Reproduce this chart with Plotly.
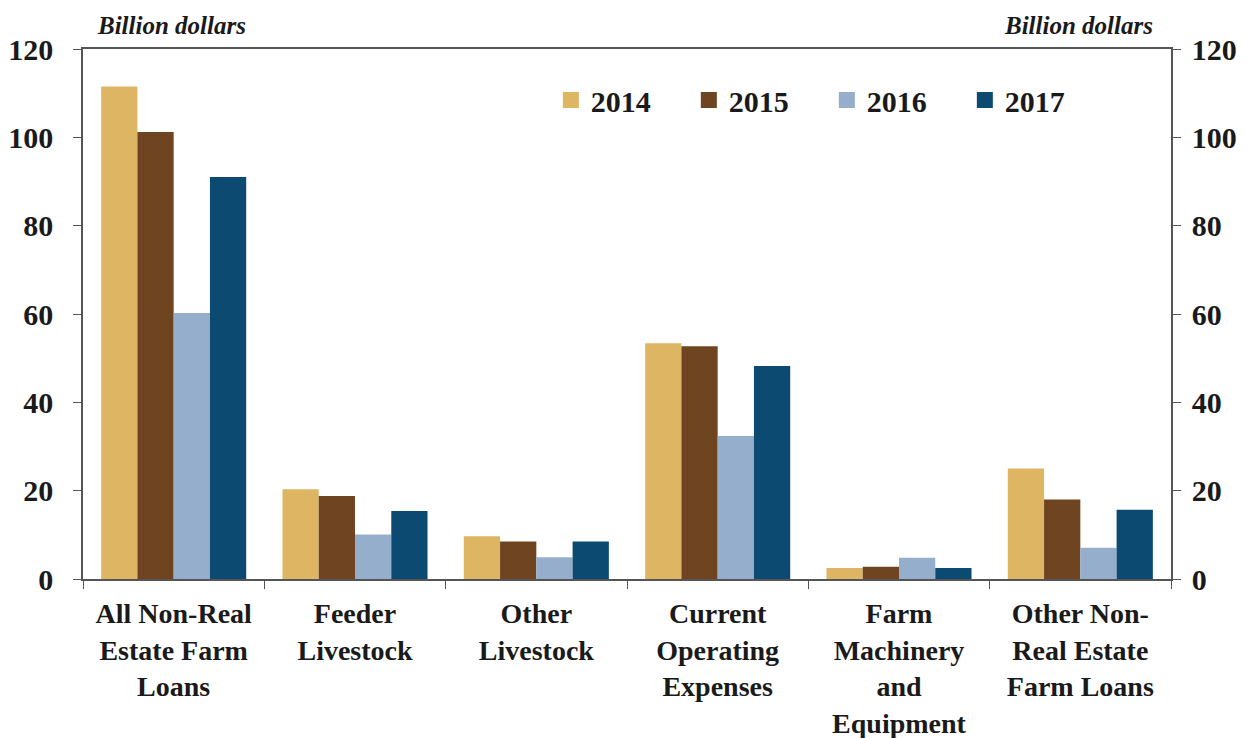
import plotly.graph_objects as go

categories = [
    "All Non-Real<br>Estate Farm<br>Loans",
    "Feeder<br>Livestock",
    "Other<br>Livestock",
    "Current<br>Operating<br>Expenses",
    "Farm<br>Machinery<br>and<br>Equipment",
    "Other Non-<br>Real Estate<br>Farm Loans",
]
v2014 = [111.5, 20.3, 9.7, 53.4, 2.5, 25.0]
v2015 = [101.2, 18.8, 8.5, 52.7, 2.8, 18.0]
v2016 = [60.2, 10.1, 4.9, 32.4, 4.8, 7.1]
v2017 = [91.0, 15.4, 8.5, 48.2, 2.5, 15.7]
years = ["2014", "2015", "2016", "2017"]
colors = ["#DDB563", "#6E4520", "#94AECB", "#0D4A72"]
yticks = [0, 20, 40, 60, 80, 100, 120]

FONT = "Liberation Serif"
TXT = "#1a1a1a"
fig = go.Figure()
for name, vals, col in zip(years, [v2014, v2015, v2016, v2017], colors):
    fig.add_trace(go.Bar(x=categories, y=vals, name=name, marker_color=col,
                         marker_line_width=0, showlegend=False))
# legend entries with larger square swatches
for name, col in zip(years, colors):
    fig.add_trace(go.Scatter(x=[None], y=[None], mode="markers", name=name,
                             marker=dict(symbol="square", size=19, color=col),
                             showlegend=True))

fig.update_layout(
    width=1258, height=738,
    margin=dict(l=75, r=95, t=41, b=167, autoexpand=False),
    paper_bgcolor="white", plot_bgcolor="white",
    barmode="group", bargap=0.2, bargroupgap=0,
    font=dict(family=FONT, size=28, color=TXT),
    showlegend=True,
    legend=dict(orientation="h", x=0.43, y=0.904, xanchor="left", yanchor="middle",
                entrywidth=93,
                font=dict(size=30, family=FONT, color=TXT, weight="bold"),
                bgcolor="rgba(0,0,0,0)", traceorder="normal", itemclick=False),
    xaxis=dict(showline=True, linecolor="#555", linewidth=1.5, mirror=True,
               ticks="outside", tickson="boundaries", ticklen=8, tickcolor="#555",
               automargin=False, ticklabelstandoff=9,
               tickfont=dict(size=28, family=FONT, color=TXT, weight="bold"),
               showgrid=False),
    yaxis=dict(range=[0, 120], tickvals=yticks, showline=True, linecolor="#555",
               linewidth=1.5, ticks="outside", ticklen=8, tickcolor="#555",
               showgrid=False, zeroline=False, automargin=False,
               ticklabelstandoff=14,
               tickfont=dict(size=30, family=FONT, color=TXT, weight="bold")),
    yaxis2=dict(range=[0, 120], tickvals=yticks, overlaying="y", side="right",
                showline=True, linecolor="#555", linewidth=1.5, ticks="outside",
                ticklen=8, tickcolor="#555", showgrid=False, zeroline=False,
                automargin=False, ticklabelstandoff=5,
                tickfont=dict(size=30, family=FONT, color=TXT, weight="bold")),
    annotations=[
        dict(text="<b><i>Billion dollars</i></b>", xref="paper", yref="paper",
             x=0.011, y=1.045, xanchor="left", yanchor="middle", showarrow=False,
             font=dict(size=25, family=FONT, color=TXT)),
        dict(text="<b><i>Billion dollars</i></b>", xref="paper", yref="paper",
             x=0.985, y=1.045, xanchor="right", yanchor="middle", showarrow=False,
             font=dict(size=25, family=FONT, color=TXT)),
    ],
)
fig.add_trace(go.Scatter(x=[categories[0]], y=[0], yaxis="y2", mode="markers",
                         marker=dict(opacity=0), showlegend=False, hoverinfo="skip"))
fig.write_html("out.html")
